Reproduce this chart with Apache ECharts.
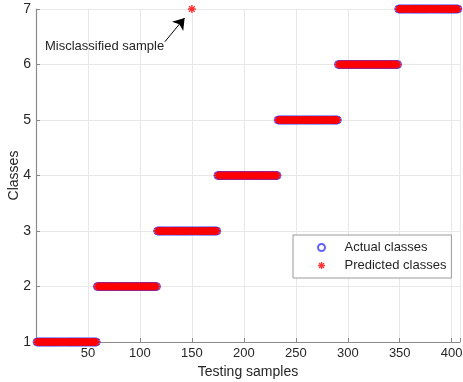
<!DOCTYPE html>
<html style="height: 100%">
<head>
    <meta charset="utf-8">
</head>
<body style="height: 100%; margin: 0; background: #fff">
<div id="container" style="width: 463px; height: 382px"></div>
<script type="text/javascript" src="https://cdn.jsdelivr.net/npm/echarts@6/dist/echarts.min.js"></script>
<script type="text/javascript">
    // classes and the sample ranges each one covers
    var classes = [1, 2, 3, 4, 5, 6, 7];
    var classFirst = [1, 59, 117, 175, 233, 291, 349];
    var classLast = [58, 116, 174, 232, 290, 348, 406];
    // wrongly predicted samples
    var missSamples = [150];
    var missPredicted = [7];
    var xTicks = [50, 100, 150, 200, 250, 300, 350, 400];

    var actual = [];
    var predicted = [];
    for (var i = 0; i < classes.length; i++) {
        for (var s = classFirst[i]; s <= classLast[i]; s++) {
            actual.push([s, classes[i]]);
            var k = missSamples.indexOf(s);
            predicted.push([s, k >= 0 ? missPredicted[k] : classes[i]]);
        }
    }

    // matlab-like '*' marker, all four arms wound the same way
    var asterisk = 'path://M-1.8,-10L1.8,-10L1.8,10L-1.8,10Z M-10,-1.8L10,-1.8L10,1.8L-10,1.8Z ' +
        'M-8.3,-5.8L-5.8,-8.3L8.3,5.8L5.8,8.3Z M-5.8,8.3L-8.3,5.8L5.8,-8.3L8.3,-5.8Z';

    var textColor = '#262626';
    var axisGray = '#8a8a8a';

    var myChart = echarts.init(document.getElementById('container'));
    var option = {
        animation: false,
        textStyle: {fontFamily: 'Liberation Sans, Arial, sans-serif'},
        grid: {left: 36, right: 3, top: 9, bottom: 40, outerBoundsMode: 'none', containLabel: false},
        legend: {
            orient: 'vertical',
            left: 293,
            top: 235,
            padding: [6, 5, 6, 24],
            itemWidth: 36,
            itemHeight: 7,
            itemGap: 5,
            borderColor: '#9a9a9a',
            borderWidth: 1,
            backgroundColor: '#fff',
            textStyle: {fontSize: 13, color: textColor},
            data: ['Actual classes', 'Predicted classes']
        },
        xAxis: {
            type: 'value',
            min: 0,
            max: 408,
            interval: 50,
            name: 'Testing samples',
            nameLocation: 'middle',
            nameGap: 22,
            nameTextStyle: {fontSize: 14, color: textColor},
            axisLine: {lineStyle: {color: axisGray, width: 1.2}},
            axisTick: {inside: true, length: 4, lineStyle: {color: axisGray}},
            axisLabel: {
                fontSize: 13, color: textColor, margin: 5, showMinLabel: false,
                formatter: function (v) { return xTicks.indexOf(v) >= 0 ? v : ''; }
            },
            splitLine: {show: true, lineStyle: {color: '#e8e8e8'}}
        },
        yAxis: {
            type: 'value',
            min: 1,
            max: 7,
            interval: 1,
            name: 'Classes',
            nameLocation: 'middle',
            nameGap: 15,
            nameMoveOverlap: false,
            nameTextStyle: {fontSize: 14, color: textColor},
            axisLine: {show: true, lineStyle: {color: axisGray, width: 1.2}},
            axisTick: {show: true, inside: true, length: 4, lineStyle: {color: axisGray}},
            axisLabel: {fontSize: 14, color: textColor, margin: 5},
            splitLine: {show: true, lineStyle: {color: '#e8e8e8'}}
        },
        series: [
            {
                name: 'Actual classes',
                type: 'scatter',
                symbol: 'circle',
                symbolSize: 8,
                itemStyle: {color: 'rgba(255,255,255,0)', borderColor: '#3a3aff', borderWidth: 1},
                data: actual
            },
            {
                name: 'Predicted classes',
                type: 'scatter',
                symbol: asterisk,
                symbolSize: 8,
                itemStyle: {color: '#ff0000'},
                data: predicted,
                markLine: {
                    silent: true,
                    symbol: ['none', 'arrow'],
                    symbolSize: 11,
                    lineStyle: {color: '#000', width: 1, type: 'solid'},
                    label: {show: false},
                    data: [[{coord: [124, 6.41]}, {coord: [143, 6.84]}]]
                },
                markPoint: {
                    silent: true,
                    symbolSize: 0,
                    label: {
                        show: true, position: 'inside', fontSize: 13, color: textColor,
                        formatter: 'Misclassified sample'
                    },
                    data: [{coord: [66, 6.33]}]
                }
            }
        ]
    };
    myChart.setOption(option);
</script>
</body>
</html>
